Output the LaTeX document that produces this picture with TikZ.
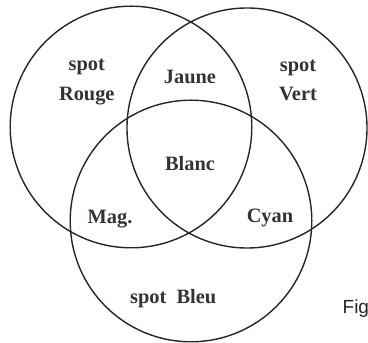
\documentclass[tikz,border=0pt]{standalone}
\usepackage{fontspec}
\setmainfont{Liberation Serif}
\setsansfont{Liberation Sans}
\usepackage{tikz}
\usetikzlibrary{positioning}

\begin{document}
\begin{tikzpicture}[
        ring/.style={line width=1pt, black!85},
        lbl/.style={font=\bfseries\fontsize{14.5}{21}\selectfont, text=black!80, align=center, inner sep=0pt}
    ]
        \useasboundingbox (0,0) rectangle (9.2,8.575);
        \clip (0,0) rectangle (9.2,8.575);

        % the three spots
        \draw[ring] (3.275,5.4) circle (3.02);
        \draw[ring] (6.175,5.375) circle (3.0);
        \draw[ring] (4.775,3.05) circle (3.02);

        \node[lbl] (rouge) at (2.17,6.52) {spot\\Rouge};
        \node[lbl] (vert) at (7.45,6.57) {spot\\Vert};
        \node[lbl] (jaune) at (4.75,6.65) {Jaune};
        \node[lbl] (blanc) at (4.75,4.48) {Blanc};
        \node[lbl] (mag) at (2.75,3.1) {Mag.};
        \node[lbl] (cyan) at (6.75,3.12) {Cyan};
        \node[lbl] (bleu) at (4.33,1.12) {spot\ \ Bleu};

        \node[anchor=west, inner sep=0pt, font=\sffamily\fontsize{13.5}{16}\selectfont, text=black!85] (fig) at (8.56,0.85) {Fig};
    \end{tikzpicture}
\end{document}
